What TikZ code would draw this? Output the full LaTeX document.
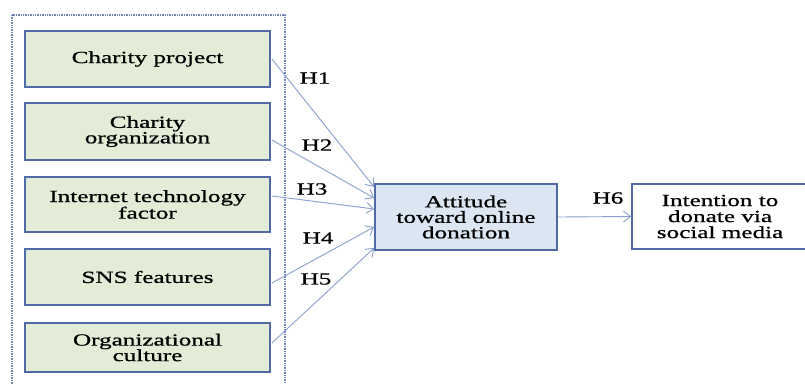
\documentclass[tikz,border=0pt]{standalone}
\usepackage{fontspec}
\setmainfont{Liberation Serif}[FakeStretch=1.48,FakeBold=0.8]
\usetikzlibrary{arrows.meta}
\definecolor{boxborder}{HTML}{4F6AA5}
\definecolor{greenfill}{HTML}{E2ECD6}
\definecolor{bluefill}{HTML}{DCE6F2}
\definecolor{arrowcol}{HTML}{8A9FCF}
\definecolor{framecol}{HTML}{6E82B8}
\tikzset{
  factor/.style={draw=boxborder, line width=1.8pt, fill=greenfill, minimum width=245pt, align=center, inner sep=0pt,
    font=\fontsize{17}{15.5}\selectfont},
  attbox/.style={draw=boxborder, line width=1.8pt, fill=bluefill, minimum width=182pt, minimum height=66pt, align=center, inner sep=0pt,
    font=\fontsize{17}{15.5}\selectfont},
  intbox/.style={draw=boxborder, line width=1.8pt, fill=white, minimum width=176pt, minimum height=65pt, align=center, inner sep=0pt,
    font=\fontsize{17}{16}\selectfont},
  hyp/.style={font=\fontsize{17}{15}\selectfont, inner sep=0pt},
  link/.style={draw=arrowcol, line width=0.9pt, -{Straight Barb[length=7pt,width=11pt]}}
}
\begin{document}
\begin{tikzpicture}[x=1pt,y=-1pt]
\clip (0,0) rectangle (805,383);
\fill[white] (0,0) rectangle (805,383);
\draw[framecol, densely dotted, line width=1.4pt] (12,15) rectangle (285,395);
\node[factor, minimum height=56pt] (b1) at (147.5,59) {Charity project};
\node[factor, minimum height=57pt] (b2) at (147.5,131.5) {Charity\\organization};
\node[factor, minimum height=55pt] (b3) at (147.5,204.5) {Internet technology\\factor};
\node[factor, minimum height=56pt] (b4) at (147.5,277) {SNS features};
\node[factor, minimum height=49pt] (b5) at (147.5,347.5) {Organizational\\culture};
\node[attbox] (att) at (466,217) {Attitude\\toward online\\donation};
\node[intbox] (int) at (720,216.5) {Intention to\\donate via\\social media};
\draw[link] ([xshift=1pt]b1.east) -- ([yshift=30pt]att.west);
\draw[link] ([xshift=1pt,yshift=-8.5pt]b2.east) -- ([yshift=19pt]att.west);
\draw[link] ([xshift=1pt,yshift=8.5pt]b3.east) -- ([yshift=8pt]att.west);
\draw[link] ([xshift=1pt,yshift=-6pt]b4.east) -- ([yshift=-10pt]att.west);
\draw[link] ([xshift=1pt,yshift=4.5pt]b5.east) -- ([yshift=-31pt]att.west);
\draw[link] (att.east) -- (int.west);
\node[hyp] (h1) at (315,78) {H1};
\node[hyp] (h2) at (317,145) {H2};
\node[hyp] (h3) at (312,189) {H3};
\node[hyp] (h4) at (318,238) {H4};
\node[hyp] (h5) at (316,279) {H5};
\node[hyp] (h6) at (608,198) {H6};
\end{tikzpicture}
\end{document}
